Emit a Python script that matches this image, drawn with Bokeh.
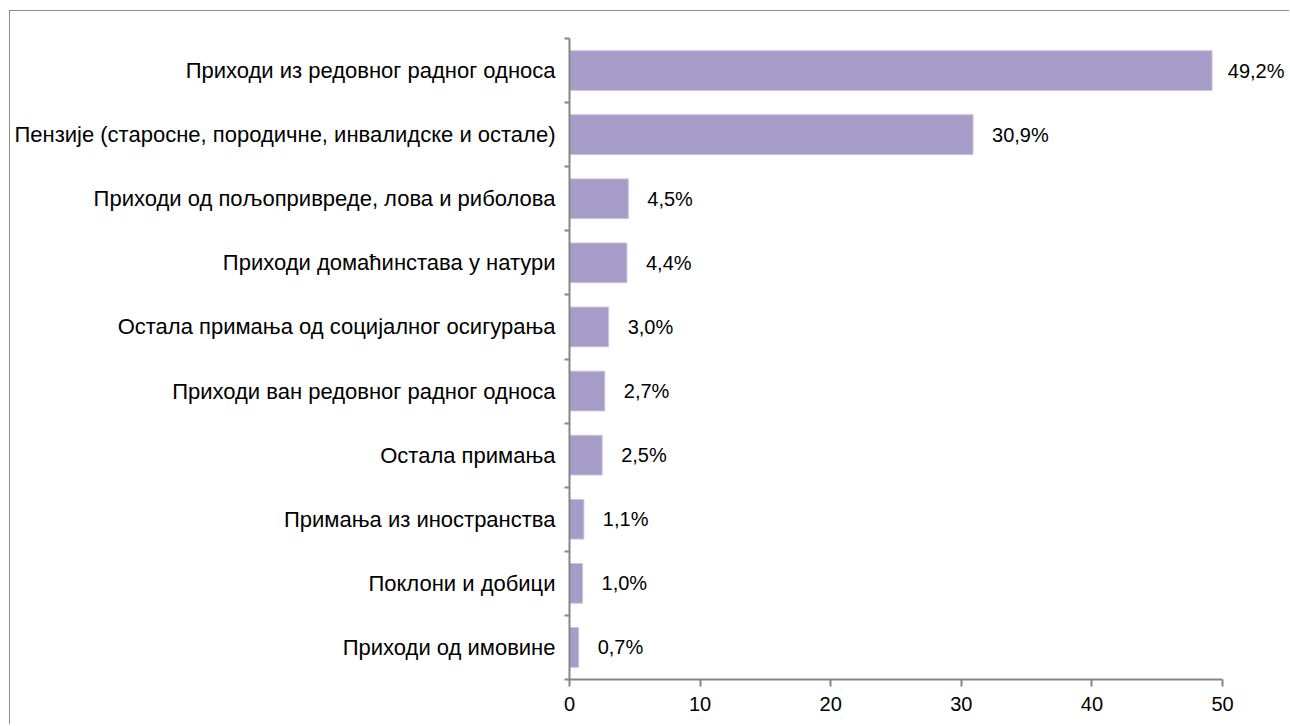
from bokeh.plotting import figure
from bokeh.models import Range1d, FixedTicker, ColumnDataSource
from bokeh.core.properties import value
from bokeh.embed import file_html
from bokeh.resources import INLINE

categories = [
    "Приходи из редовног радног односа",
    "Пензије (старосне, породичне, инвалидске и остале)",
    "Приходи од пољопривреде, лова и риболова",
    "Приходи домаћинстава у натури",
    "Остала примања од социјалног осигурања",
    "Приходи ван редовног радног односа",
    "Остала примања",
    "Примања из иностранства",
    "Поклони и добици",
    "Приходи од имовине",
]
values = [49.2, 30.9, 4.5, 4.4, 3.0, 2.7, 2.5, 1.1, 1.0, 0.7]
x_ticks = [0, 10, 20, 30, 40, 50]

n = len(categories)
ypos = [n - 0.5 - i for i in range(n)]
labels = [f"{v:.1f}".replace(".", ",") + "%" for v in values]

FONT = "Liberation Sans"
GRAY = "#868686"
LABEL_PX = 20

# layout (figure placed with a 10px/11px offset; outer border drawn via box-shadow)
W, H = 1280, 714
left_b, right_b, top_b, bot_b = 559, 0, 27, 46
frame_w = W - left_b - right_b
px_per_unit = 653 / 50.0
x_end = frame_w / px_per_unit

# keep value labels inside the frame: nudge the offset if needed
offsets = []
for v, lab in zip(values, labels):
    est_w = LABEL_PX * (0.556 * sum(ch.isdigit() for ch in lab) + 0.278 + 0.889)
    room = frame_w - v * px_per_unit - est_w - 6
    offsets.append(min(19, room))

src = ColumnDataSource(dict(y=ypos, v=values, lab=labels, off=offsets))

p = figure(width=W, height=H, output_backend="svg", toolbar_location=None,
           x_range=Range1d(0, x_end), y_range=Range1d(0, n),
           min_border_left=left_b, min_border_right=right_b, min_border_top=top_b,
           min_border_bottom=bot_b)
p.styles = {"box-shadow": "-1px -1px 0 0 #8c8c8c", "overflow": "hidden",
            "margin-left": "10px", "margin-top": "11px"}
p.outline_line_color = None
p.xgrid.visible = False
p.ygrid.visible = False
p.background_fill_color = "white"
p.border_fill_color = "white"

p.hbar(y="y", right="v", left=0, height=0.62, source=src,
       fill_color="#A59DC8", line_color="#C9C4E1", line_width=1)

p.text(x="v", y="y", text="lab", source=src, x_offset="off",
       text_align="left", text_baseline="middle",
       text_font=value(FONT), text_font_size=f"{LABEL_PX}px", text_color="black")

# x axis
xa = p.xaxis[0]
xa.ticker = FixedTicker(ticks=x_ticks, minor_ticks=[])
xa.bounds = (0, 50)
xa.axis_line_color = GRAY
xa.axis_line_width = 2
xa.major_tick_line_color = GRAY
xa.major_tick_line_width = 2
xa.major_tick_out = 7
xa.major_tick_in = 0
xa.minor_tick_line_color = None
xa.major_label_text_font = FONT
xa.major_label_text_font_size = "20px"
xa.major_label_text_color = "black"
xa.major_label_standoff = 10

# y axis
ya = p.yaxis[0]
ya.ticker = FixedTicker(ticks=ypos, minor_ticks=list(range(n + 1)))
ya.major_label_overrides = {y: c for y, c in zip(ypos, categories)}
ya.axis_line_color = GRAY
ya.axis_line_width = 2
ya.major_tick_line_color = None
ya.major_tick_out = 0
ya.major_tick_in = 0
ya.minor_tick_line_color = GRAY
ya.minor_tick_line_width = 2
ya.minor_tick_out = 5
ya.minor_tick_in = 0
ya.major_label_text_font = FONT
ya.major_label_text_font_size = "22px"
ya.major_label_text_color = "black"
ya.major_label_standoff = 9

open("out.html", "w").write(file_html(p, INLINE))
